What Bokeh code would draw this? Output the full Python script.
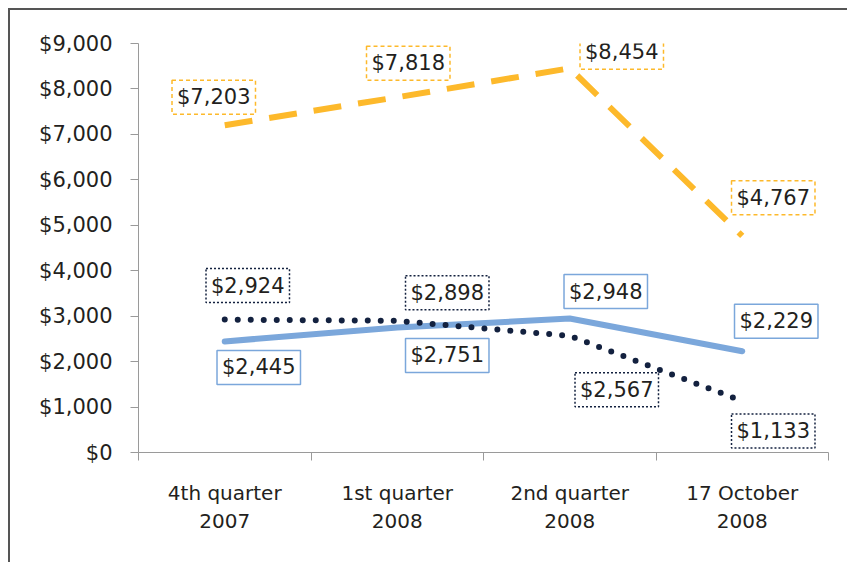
from bokeh.plotting import figure
from bokeh.models import (Label, FixedTicker, NumeralTickFormatter, Range1d, LinearAxis)
from bokeh.embed import file_html
from bokeh.resources import INLINE

categories = ["4th quarter\n2007", "1st quarter\n2008", "2nd quarter\n2008", "17 October\n2008"]
series_orange = [7203, 7818, 8454, 4767]
series_blue = [2445, 2751, 2948, 2229]
series_navy = [2924, 2898, 2567, 1133]
y_ticks = [0, 1000, 2000, 3000, 4000, 5000, 6000, 7000, 8000, 9000]

# label offsets in screen pixels (styles, not data)
off_orange = ([-11, 11, 52, 31], [28, 34, 16, 38])
off_blue = ([34, 50, 36, 34], [-26, -28, 27, 30])
off_navy = ([23, 50, 47, 31], [34, 28, -54, -30])

FONT = "DejaVu Sans"
ORANGE = "#FDB92B"
BLUE = "#7BA7DB"
NAVY = "#13213F"
TEXT = "#231F20"

n = len(categories)
xs = [i + 0.5 for i in range(n)]

p = figure(width=839, height=554, output_backend="svg", toolbar_location=None,
           x_range=Range1d(0, n), y_range=Range1d(0, 9000),
           min_border_left=128, min_border_right=21, min_border_top=33, min_border_bottom=112,
           x_axis_type=None, y_axis_type=None)
p.styles = {"border-left": "2px solid #555555", "border-top": "2px solid #555555",
            "margin-left": "8px", "margin-top": "8px"}
p.outline_line_color = None
p.background_fill_color = "white"
p.border_fill_color = "white"

# y axis
yax = LinearAxis(ticker=FixedTicker(ticks=y_ticks), formatter=NumeralTickFormatter(format="$0,0"))
yax.axis_line_color = "#9a9a9a"
yax.major_tick_line_color = "#9a9a9a"
yax.major_tick_out = 8
yax.major_tick_in = 0
yax.minor_tick_line_color = None
yax.major_label_text_font = FONT
yax.major_label_text_font_size = "21px"
yax.major_label_text_color = TEXT
yax.major_label_standoff = 18
p.add_layout(yax, "left")

# x axis
xax = LinearAxis(ticker=FixedTicker(ticks=xs, minor_ticks=list(range(n + 1))))
xax.major_label_overrides = {x: c for x, c in zip(xs, categories)}
xax.axis_line_color = "#9a9a9a"
xax.major_tick_line_color = None
xax.major_tick_out = 0
xax.minor_tick_line_color = "#9a9a9a"
xax.minor_tick_out = 8
xax.minor_tick_in = 0
xax.major_label_text_font = FONT
xax.major_label_text_font_size = "20px"
xax.major_label_text_color = TEXT
xax.major_label_standoff = 20
p.add_layout(xax, "below")

p.ygrid.ticker = FixedTicker(ticks=y_ticks)
p.ygrid.grid_line_color = "#a6a6a6"
p.xgrid.grid_line_color = None
p.grid.level = "underlay"

p.line(xs, series_orange, line_color=ORANGE, line_width=6, line_dash="28 17")
p.line(xs, series_blue, line_color=BLUE, line_width=6, line_cap="round", line_join="round")
p.line(xs, series_navy, line_color=NAVY, line_width=6, line_cap="round", line_dash="0 13")

def fmt(v):
    return "${:,}".format(v)

def add_labels(vals, offs, color, dash, width):
    for x, v, xo, yo in zip(xs, vals, offs[0], offs[1]):
        lb = Label(x=x, y=v, text=fmt(v), x_offset=xo, y_offset=yo,
                   text_align="center", text_baseline="middle",
                   text_font=FONT, text_font_size="21px", text_color=TEXT,
                   background_fill_color="white",
                   border_line_color=color, border_line_width=width, border_line_dash=dash,
                   padding={"left": 5, "right": 5, "top": 5, "bottom": 5})
        p.add_layout(lb)

add_labels(series_orange, off_orange, ORANGE, "4 3", 1.5)
add_labels(series_blue, off_blue, BLUE, "solid", 1.5)
add_labels(series_navy, off_navy, NAVY, "2 2", 1.5)

open("out.html", "w").write(file_html(p, INLINE))
